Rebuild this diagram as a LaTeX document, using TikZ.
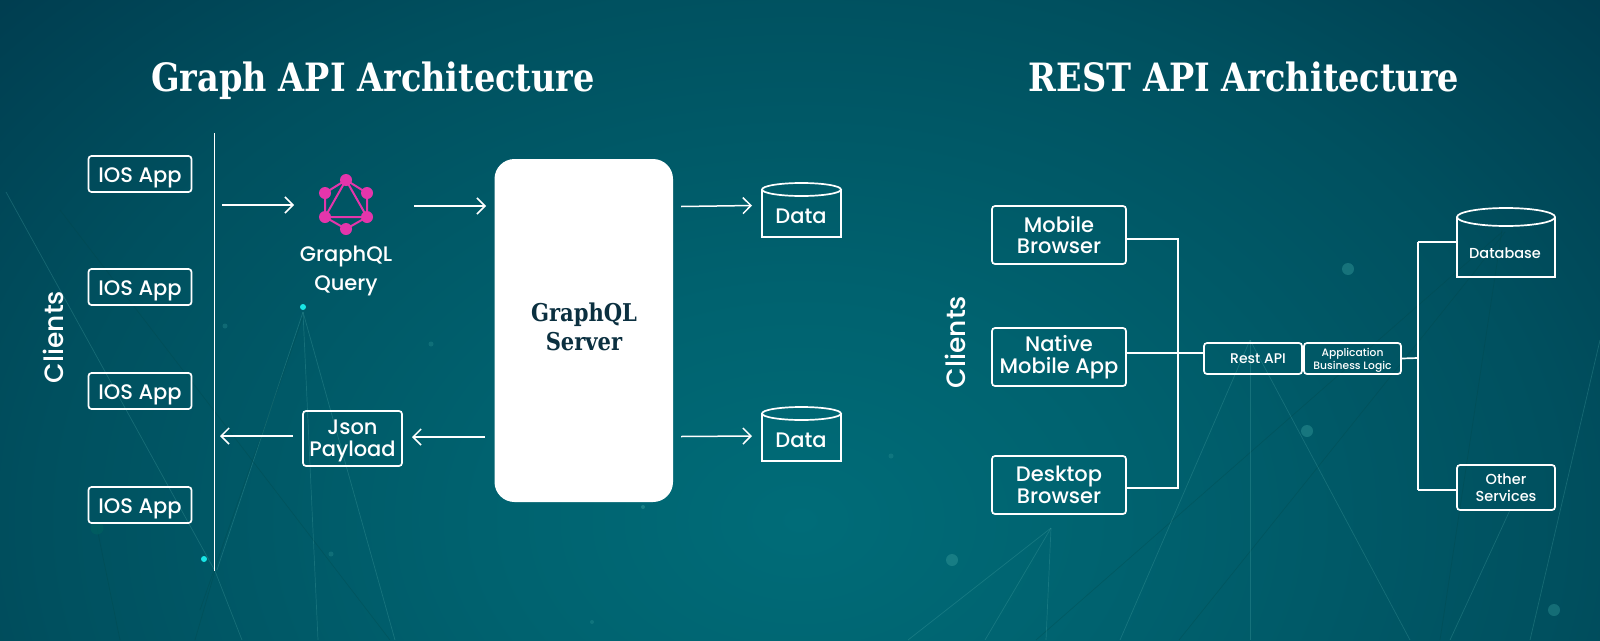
\documentclass[tikz,border=0pt]{standalone}
\usepackage{fontspec}
\setmainfont{Poppins Medium}
\newfontfamily\slabfont[FakeStretch=0.86]{DejaVu Serif}
\usetikzlibrary{arrows.meta}
\definecolor{bgA}{HTML}{006C78}
\definecolor{bgB}{HTML}{00626F}
\definecolor{bgC}{HTML}{00505F}
\definecolor{bgD}{HTML}{003B4E}
\definecolor{bgE}{HTML}{002E41}
\definecolor{gql}{HTML}{E535AB}
\definecolor{ink}{HTML}{0B3040}
\definecolor{glow}{HTML}{19E6E6}
\pgfdeclareradialshading{bgglow}{\pgfpointorigin}{color(0bp)=(bgA); color(8bp)=(bgB); color(19bp)=(bgC); color(28bp)=(bgD); color(38bp)=(bgE); color(50bp)=(bgE)}
\tikzset{
  wire/.style={draw=white,line width=1.7pt},
  flow/.style={draw=white,line width=1.5pt,-{Straight Barb[length=8pt,width=16pt,line width=1.5pt]}},
  appbox/.style={draw=white,line width=1.7pt,rounded corners=3pt,text=white,align=center,inner sep=0pt,font=\fontsize{21}{24}\selectfont},
  iosbox/.style={appbox,minimum width=103pt,minimum height=36pt,text height=16pt,text depth=0pt},
  restbox/.style={appbox,font=\fontsize{21}{21.5}\selectfont},
  smallbox/.style={appbox,font=\fontsize{14}{16}\selectfont},
  tinybox/.style={appbox,font=\fontsize{10.7}{13}\selectfont},
  label/.style={text=white,align=center,inner sep=0pt},
  title/.style={text=white,inner sep=0pt,anchor=base,font=\slabfont\bfseries\fontsize{39}{42}\selectfont},
  faintline/.style={line width=0.7pt,draw=#1},
  gqledge/.style={draw=gql,line width=2pt},
  gqlnode/.style={circle,fill=gql,inner sep=0pt,minimum size=12pt},
}
\begin{document}
\begin{tikzpicture}[x=1pt,y=-1pt]
\useasboundingbox (0,0) rectangle (1600,640);
\clip (0,0) rectangle (1600,640);
\shade[shading=bgglow] (-200,-200) rectangle (1800,1240);
% background mesh
\begin{scope}[opacity=.3]
\foreach \x/\y in {217/570,318/640,395/640}{\draw[faintline=teal!70!white] (303,312) -- (\x,\y);}
\draw[faintline=teal!70!white] (6,192) -- (215,571) -- (242,640);
\draw[faintline=black!45!teal] (60,210) -- (390,640);
\draw[faintline=black!45!teal] (215,571) -- (195,640);
\draw[faintline=black!45!teal] (97,528) -- (120,640);
\draw[faintline=black!45!teal] (303,317) -- (200,610);
\foreach \x in {908,985,1046}{\draw[faintline=teal!70!white] (1051,528) -- (\x,640);}
\draw[faintline=black!45!teal] (1036,640) -- (1502,232);
\draw[faintline=black!45!teal] (1179,640) -- (1476,270) -- (1505,232);
\draw[faintline=teal!70!white] (1250,340) -- (1250,640);
\draw[faintline=teal!70!white] (1250,340) -- (1120,640);
\draw[faintline=teal!70!white] (1250,340) -- (1410,640);
\draw[faintline=black!45!teal] (1440,640) -- (1502,230);
\draw[faintline=teal!70!white] (1450,640) -- (1510,510);
\draw[faintline=teal!70!white] (1530,640) -- (1600,340);
\end{scope}
\fill[glow] (303,307) circle (3);
\fill[glow] (204,559) circle (3);
\fill[teal!75!black,opacity=.7] (97,528) circle (6.5);
\fill[teal!80!white,opacity=.3] (225,326) circle (2.5);
\fill[teal!80!white,opacity=.3] (431,344) circle (2.5);
\fill[teal!80!white,opacity=.3] (331,554) circle (2.5);
\fill[teal!80!white,opacity=.3] (891,456) circle (2.5);
\fill[teal!80!white,opacity=.5] (643,507) circle (2);
\fill[teal!80!white,opacity=.3] (592,622) circle (2);
\fill[teal!80!white,opacity=.45] (1348,269) circle (6);
\fill[teal!80!white,opacity=.45] (1307,431) circle (6);
\fill[teal!80!white,opacity=.45] (952,560) circle (6);
\fill[teal!80!white,opacity=.4] (1554,610) circle (6);
% titles
\node[title] (gtitle) at (373,91) {Graph API Architecture};
\node[title] (rtitle) at (1244,91) {REST API Architecture};
% left column
\node[label,rotate=90,font=\fontsize{26.5}{30}\selectfont] (clientsL) at (53,337) {Clients};
\node[iosbox] (ios1) at (140,174) {IOS App};
\node[iosbox] (ios2) at (140,287) {IOS App};
\node[iosbox] (ios3) at (140,391) {IOS App};
\node[iosbox] (ios4) at (140,505) {IOS App};
\coordinate (barT) at (214.5,133);
\coordinate (barB) at (214.5,571);
\draw[draw=white,line width=1pt] (barT) -- (barB);
% GraphQL icon
\coordinate (hexT) at (346,180);
\coordinate (hexTR) at (367,193);
\coordinate (hexBR) at (367,217);
\coordinate (hexB) at (346,229);
\coordinate (hexBL) at (325,217);
\coordinate (hexTL) at (325,193);
\draw[gqledge] (hexT)--(hexTR)--(hexBR)--(hexB)--(hexBL)--(hexTL)--cycle;
\draw[gqledge] (hexT)--(hexBR)--(hexBL)--cycle;
\foreach \c in {hexT,hexTR,hexBR,hexB,hexBL,hexTL}{\node[gqlnode] at (\c) {};}
\node[label,font=\fontsize{21}{24}\selectfont] (query) at (346,271) {GraphQL\\[5pt]Query};
\node[restbox,minimum width=99pt,minimum height=55pt,text depth=1pt] (json) at (352.5,438.5) {Json\\Payload};
\node[fill=white,rounded corners=20pt,minimum width=178.5pt,minimum height=343pt,inner sep=0pt] (server) at (583.75,330.5) {};
\node[text=ink,align=center,inner sep=0pt,font=\slabfont\bfseries\fontsize{24.5}{29}\selectfont] (serverT) at (584,327) {GraphQL\\Server};
% data stores
\coordinate (d1) at (801.5,210);
\coordinate (d2) at (801.5,434);
\foreach \c in {d1,d2}{
  \draw[wire] ([shift={(-39.5,-20.5)}]\c) -- ([shift={(-39.5,27)}]\c) -- ([shift={(39.5,27)}]\c) -- ([shift={(39.5,-20.5)}]\c);
  \draw[wire] ([shift={(0,-20.5)}]\c) ellipse (39.5 and 6.5);
}
\node[label,font=\fontsize{21}{24}\selectfont] (data1) at (801,216) {Data};
\node[label,font=\fontsize{21}{24}\selectfont] (data2) at (801,440) {Data};
% flows
\coordinate (a1s) at (222,205); \coordinate (a1e) at (294,205);
\coordinate (a2s) at (414,206); \coordinate (a2e) at (486,206);
\coordinate (a3s) at (681,206.5); \coordinate (a3e) at (752,205.5);
\coordinate (a4s) at (681,436.5); \coordinate (a4e) at (752,436);
\coordinate (a5s) at (293,436); \coordinate (a5e) at (220,436);
\coordinate (a6s) at (485,437); \coordinate (a6e) at (412,437);
\foreach \s/\e in {a1s/a1e,a2s/a2e,a3s/a3e,a4s/a4e,a5s/a5e,a6s/a6e}{\draw[flow] (\s) -- (\e);}
% right side
\node[label,rotate=90,font=\fontsize{26.5}{30}\selectfont] (clientsR) at (955,342) {Clients};
\node[restbox,minimum width=134pt,minimum height=58pt] (mobile) at (1059,235) {Mobile\\Browser};
\node[restbox,minimum width=134pt,minimum height=58pt] (native) at (1059,357) {Native\\Mobile App};
\node[restbox,minimum width=134pt,minimum height=58pt] (desktop) at (1059,485) {Desktop\\Browser};
\node[smallbox,minimum width=98pt,minimum height=31pt] (rest) at (1253,358.5) {\hspace*{10pt}Rest API};
\node[tinybox,minimum width=97pt,minimum height=31pt,text depth=0pt] (logic) at (1352.5,358.5) {Application\\Business Logic};
\coordinate (busL) at (1178,353);
\coordinate (busRT) at (1418,242);
\coordinate (busRB) at (1418,490);
\coordinate (busRM) at (1418,358);
\draw[wire] ([yshift=-4pt]mobile.east) -| (busL);
\draw[wire] ([yshift=-3pt]desktop.east) -| (busL);
\draw[wire] ([yshift=4pt]native.east) -- (busL) -- (busL-|rest.west);
\draw[wire] (logic.east) -- (busRM);
\node[label,font=\fontsize{14.5}{18}\selectfont] (dbT) at (1505,253) {Database};
\coordinate (dbTop) at (1506,217);
\draw[wire] ([shift={(-49,0)}]dbTop) -- ([shift={(-49,60)}]dbTop) -- ([shift={(49,60)}]dbTop) -- ([shift={(49,0)}]dbTop);
\draw[wire] (dbTop) ellipse (49 and 9);
\node[appbox,minimum width=98pt,minimum height=45pt,font=\fontsize{14.5}{17}\selectfont] (other) at (1506,487.5) {Other\\Services};
\draw[wire] (busRT) -- (busRB);
\draw[wire] (busRT) -- ([shift={(-49,25)}]dbTop);
\draw[wire] (busRB) -- (other.west|-busRB);
\end{tikzpicture}
\end{document}
